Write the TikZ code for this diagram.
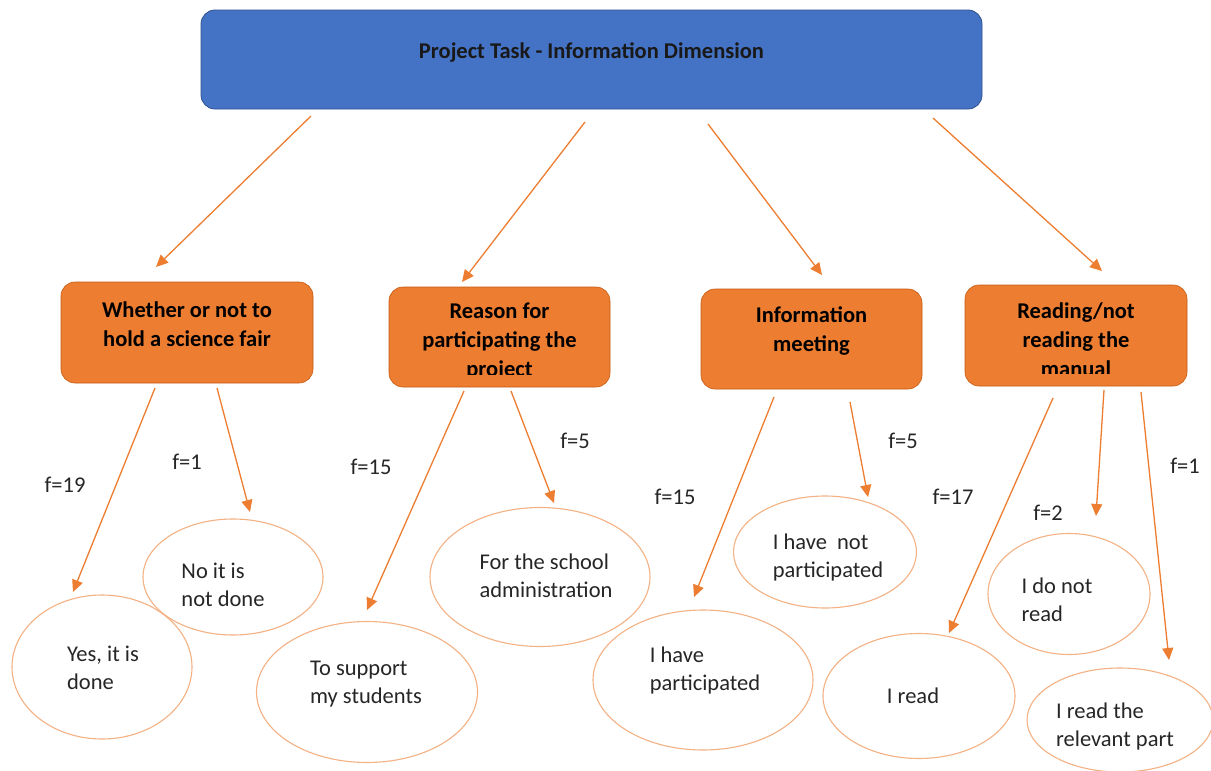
\documentclass[tikz,border=0pt]{standalone}
\usepackage{fontspec}
\setmainfont{Carlito}
\usetikzlibrary{shapes.geometric,arrows.meta}
\definecolor{blu}{HTML}{4472C4}
\definecolor{bluedge}{HTML}{2F528F}
\definecolor{org}{HTML}{ED7D31}
\definecolor{orgedge}{HTML}{C55A11}
\definecolor{ellc}{HTML}{F4B183}
\begin{document}
\begin{tikzpicture}[x=1pt,y=-1pt,
 topbox/.style={draw=bluedge, line width=0.8pt, fill=blu, rounded corners=14pt, inner sep=0},
 catbox/.style={draw=orgedge, line width=0.6pt, fill=org, rounded corners=14pt, inner sep=0},
 boldtext/.style={font=\fontsize{22.5}{29}\selectfont\bfseries, text=black, align=center, inner sep=0},
 ell/.style={ellipse, draw=ellc, line width=1.1pt, inner sep=0},
 etext/.style={font=\fontsize{22.5}{28}\selectfont, align=left, inner sep=0, text=black!85},
 flabel/.style={font=\fontsize{22.5}{26}\selectfont, inner sep=0, text=black!85},
 arr/.style={draw=org, line width=1.3pt, -{Triangle[length=12pt,width=11pt]}}]
\useasboundingbox[fill=white] (0,0) rectangle (1211,771);

% top box
\node[topbox, minimum width=781pt, minimum height=99pt] (top) at (591.5,59.5) {};
\node[boldtext, font=\fontsize{22.5}{26}\selectfont\bfseries, text=black!90] (toptext) at (591.5,52) {Project Task - Information Dimension};

% category boxes
\node[catbox, minimum width=252pt, minimum height=101pt] (b1) at (187,332.5) {};
\node[catbox, minimum width=221pt, minimum height=100pt] (b2) at (499.5,337) {};
\node[catbox, minimum width=221pt, minimum height=100pt] (b3) at (811.5,339) {};
\node[catbox, minimum width=222pt, minimum height=101pt] (b4) at (1076,335.5) {};

\node[boldtext] (b1t) at (187,324.5) {Whether or not to\\hold a science fair};
\begin{scope}
\clip (389,287) rectangle (610,374);
\node[boldtext] (b2t) at (499.5,342) {Reason for\\participating the\\project};
\end{scope}
\node[boldtext] (b3t) at (811.5,331) {Information\\meeting};
\begin{scope}
\clip (965,285) rectangle (1187,373);
\node[boldtext] (b4t) at (1076,340) {Reading/not\\reading the\\manual};
\end{scope}

% ellipses
\node[ell, minimum width=180pt, minimum height=144pt] (e1) at (102,667) {};
\node[ell, minimum width=180pt, minimum height=116pt] (e2) at (233,577) {};
\node[ell, minimum width=221pt, minimum height=141pt] (e3) at (367,692) {};
\node[ell, minimum width=220pt, minimum height=139pt] (e4) at (540,577) {};
\node[ell, minimum width=220pt, minimum height=140pt] (e5) at (703,680) {};
\node[ell, minimum width=183pt, minimum height=112pt] (e6) at (825,552) {};
\node[ell, minimum width=192pt, minimum height=125pt] (e7) at (919,696) {};
\node[ell, minimum width=162pt, minimum height=121pt] (e8) at (1069,594) {};
\node[ell, minimum width=186pt, minimum height=104pt] (e9) at (1120,720) {};

\node[etext] (e1t) at (103,668) {Yes, it is\\done};
\node[etext] (e2t) at (223,585) {No it is\\not done};
\node[etext] (e3t) at (366,684) {To support\\my students};
\node[etext] (e4t) at (546,576) {For the school\\administration};
\node[etext] (e5t) at (705,670) {I have\\participated};
\node[etext] (e6t) at (828,557) {I have~~not\\participated};
\node[etext] (e7t) at (913,696) {I read};
\node[etext] (e8t) at (1057,600) {I do not\\read};
\node[etext] (e9t) at (1115,726) {I read the\\relevant part};

% frequency labels
\node[flabel] (f1) at (65,485) {f=19};
\node[flabel] (f2) at (187,462) {f=1};
\node[flabel] (f3) at (371,467) {f=15};
\node[flabel] (f4) at (575,441) {f=5};
\node[flabel] (f5) at (675,497) {f=15};
\node[flabel] (f6) at (903,441) {f=5};
\node[flabel] (f7) at (953,497) {f=17};
\node[flabel] (f8) at (1048,513) {f=2};
\node[flabel] (f9) at (1185,466) {f=1};

% arrow end points
\coordinate (t1) at (311,116);  \coordinate (h1) at (156,267);
\coordinate (t2) at (585,122);  \coordinate (h2) at (462,282);
\coordinate (t3) at (708,124);  \coordinate (h3) at (822,275);
\coordinate (t4) at (933,118);  \coordinate (h4) at (1102,271);

\coordinate (s11) at (155,388); \coordinate (d11) at (73,592);
\coordinate (s12) at (217,388); \coordinate (d12) at (250,512);
\coordinate (s21) at (464,391); \coordinate (d21) at (367,610);
\coordinate (s22) at (511,391); \coordinate (d22) at (554,503);
\coordinate (s31) at (774,397); \coordinate (d31) at (694,597);
\coordinate (s32) at (850,402); \coordinate (d32) at (868,497);
\coordinate (s41) at (1053,398); \coordinate (d41) at (949,633);
\coordinate (s42) at (1104,390); \coordinate (d42) at (1096,516);
\coordinate (s43) at (1141,392); \coordinate (d43) at (1169,660);

\draw[arr] (t1) -- (h1);
\draw[arr] (t2) -- (h2);
\draw[arr] (t3) -- (h3);
\draw[arr] (t4) -- (h4);
\draw[arr] (s11) -- (d11);
\draw[arr] (s12) -- (d12);
\draw[arr] (s21) -- (d21);
\draw[arr] (s22) -- (d22);
\draw[arr] (s31) -- (d31);
\draw[arr] (s32) -- (d32);
\draw[arr] (s41) -- (d41);
\draw[arr] (s42) -- (d42);
\draw[arr] (s43) -- (d43);
\end{tikzpicture}
\end{document}
